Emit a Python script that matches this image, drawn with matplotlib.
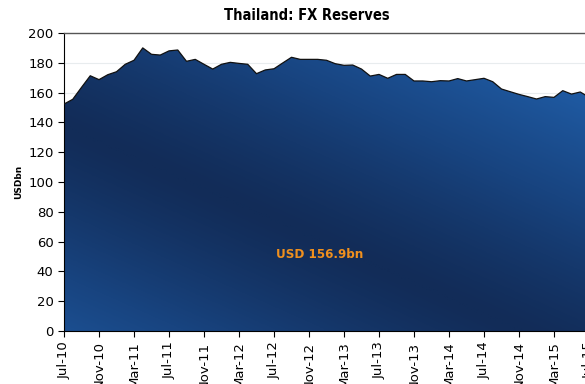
import numpy as np
import matplotlib
matplotlib.use("Agg")
import matplotlib.pyplot as plt
from matplotlib.colors import LinearSegmentedColormap

plt.rcParams["font.family"] = ["DejaVu Sans"]

# Monthly FX reserves, Jul-2010 .. Jul-2015 (USD bn)
reserves = [
    152.3, 155.5, 163.5, 171.3, 168.7, 172.0, 174.0, 179.0, 181.7, 190.0,
    185.7, 185.2, 188.0, 188.6, 181.0, 182.3, 179.0, 175.8, 179.0, 180.3,
    179.6, 179.0, 172.7, 175.2, 176.0, 179.9, 183.7, 182.3, 182.3, 182.3,
    181.7, 179.4, 178.3, 178.5, 175.8, 171.1, 172.2, 169.6, 172.2, 172.2,
    167.8, 167.8, 167.3, 168.0, 167.8, 169.4, 167.8, 168.7, 169.6, 167.3,
    162.4, 160.6, 158.8, 157.3, 155.7, 157.3, 156.8, 161.3, 159.0, 160.4,
    156.9,
]
tick_labels = ["Jul-10", "Nov-10", "Mar-11", "Jul-11", "Nov-11", "Mar-12",
               "Jul-12", "Nov-12", "Mar-13", "Jul-13", "Nov-13", "Mar-14",
               "Jul-14", "Nov-14", "Mar-15", "Jul-15"]
y_ticks = [0, 20, 40, 60, 80, 100, 120, 140, 160, 180, 200]
latest_label = f"USD {reserves[-1]:.1f}bn"

months = np.arange(len(reserves))

fig = plt.figure(figsize=(5.85, 3.84), dpi=100)
ax_w_px, ax_h_px = 525, 298
ax = fig.add_axes([64 / 585, 53 / 384, ax_w_px / 585, ax_h_px / 384])

ax.set_xlim(0, len(reserves) - 1)
ax.set_ylim(0, 200)

# light grid lines behind the area
for v in y_ticks[1:-1]:
    ax.axhline(v, color="#e8ecee", lw=0.8, zorder=0)

# area outline used as clip path for the gradient
poly = ax.fill_between(months, reserves, 0, facecolor="none", edgecolor="none")
ax.plot(months, reserves, color="#111111", lw=0.9, zorder=3)

# diagonal gradient: dark band from top-left to bottom-right, lighter corners
nx, ny = 600, 340
px = np.linspace(0, ax_w_px, nx)
py = np.linspace(ax_h_px, 0, ny)  # image rows top -> bottom
PX, PY = np.meshgrid(px, py)
p0 = np.array([0.0, 205.0])
d = np.array([525.0, -235.0])
d /= np.linalg.norm(d)
nrm = np.array([-d[1], d[0]])
dist = (PX - p0[0]) * nrm[0] + (PY - p0[1]) * nrm[1]
t = np.clip(np.abs(dist) / 240.0, 0, 1) ** 1.25
cmap = LinearSegmentedColormap.from_list("band", ["#122c58", "#184480", "#1f5aa2"])
img = ax.imshow(t, cmap=cmap, vmin=0, vmax=1, aspect="auto",
                extent=[0, len(reserves) - 1, 0, 200], zorder=2,
                interpolation="bilinear")
img.set_clip_path(poly.get_paths()[0], transform=ax.transData)

# axes styling
ax.spines["right"].set_visible(False)
ax.spines["top"].set_color("#555555")
ax.spines["top"].set_linewidth(1.0)
ax.spines["left"].set_color("#000000")
ax.spines["bottom"].set_color("#000000")
ax.set_yticks(y_ticks)
ax.set_yticklabels([str(v) for v in y_ticks], fontsize=9.5)
ax.set_xticks(np.arange(0, len(reserves), 4))
ax.set_xticklabels(tick_labels, rotation=90, fontsize=9.5)
ax.tick_params(axis="both", direction="out", length=4, width=0.8, color="#000000")
ax.set_ylabel("USDbn", fontsize=6.5, fontweight="bold", labelpad=4)

ax.text(0.487, 0.258, latest_label, transform=ax.transAxes, color="#f0901e",
        fontsize=9.5, fontweight="bold", fontstretch="condensed",
        ha="center", va="center", zorder=5)

fig.text(307 / 585, 1 - 16 / 384, "Thailand: FX Reserves", ha="center", va="center",
         fontsize=10.5, fontweight="bold", fontstretch="condensed")

fig.savefig("out.png", dpi=100)
